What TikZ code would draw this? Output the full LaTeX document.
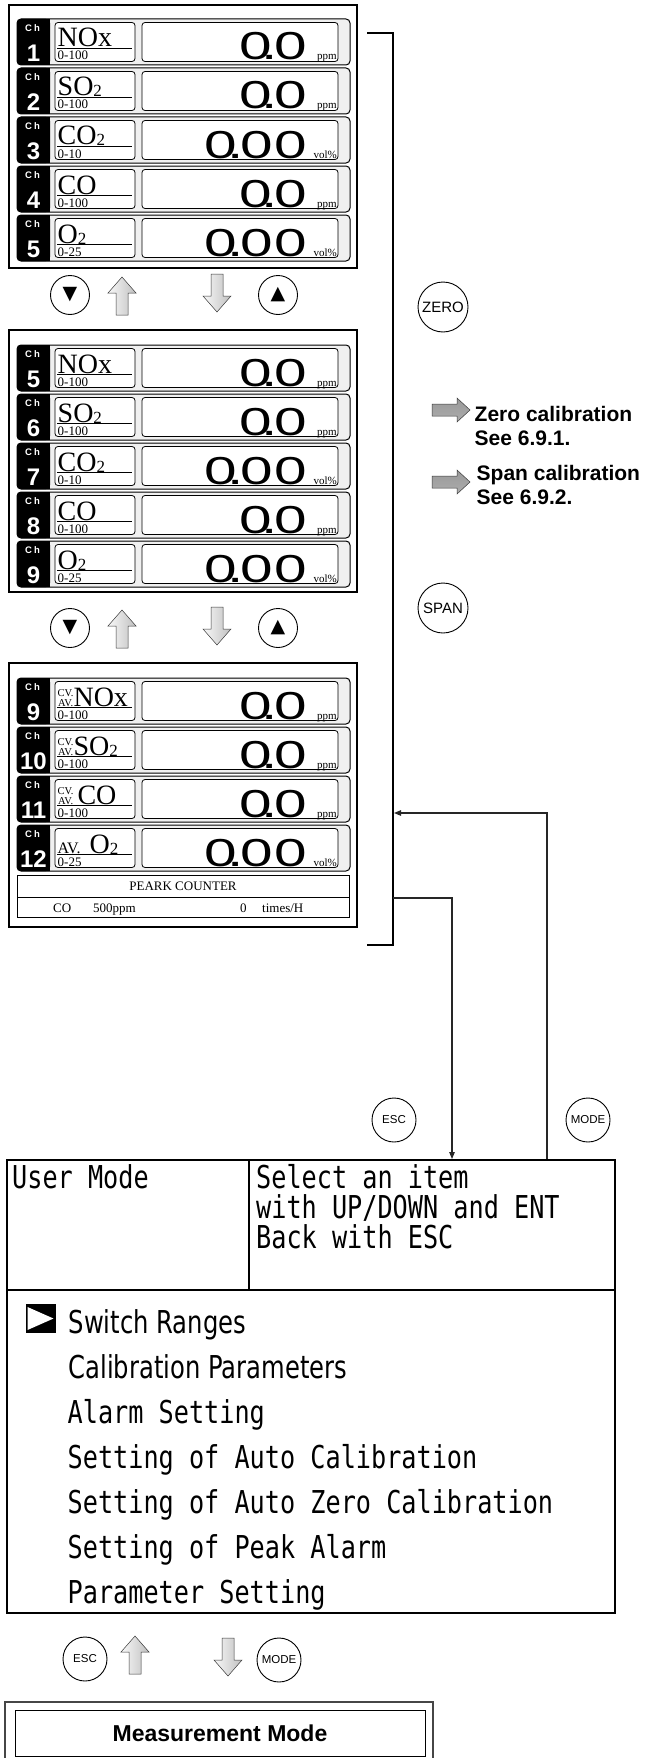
\documentclass[tikz,border=0pt]{standalone}
\usepackage{fontspec}
\setmainfont{Liberation Serif}
\setsansfont{Liberation Sans}
\newfontfamily\lcdmono{DejaVu Sans Mono}
\newfontfamily\lcdsans{DejaVu Sans}
\usetikzlibrary{arrows.meta}

\newcommand{\gsub}[1]{{\fontsize{17}{17}\selectfont\raisebox{-1pt}{#1}}}
\newcommand{\vtwo}{0\kern-.166em.\kern-.068em0}
\newcommand{\vthree}{0\kern-.166em.\kern-.068em0\kern.03em0}
\newcommand{\cvav}{{\fontsize{10.5}{9}\selectfont\begin{tabular}[b]{@{}c@{}}CV.\\AV.\end{tabular}}}
\newcommand{\lcdtext}[1]{\scalebox{0.8}[1]{#1}}

\begin{document}
\begin{tikzpicture}[x=1pt, y=-1pt,
  panel/.style={rectangle, draw, line width=1.1pt, minimum width=348pt, inner sep=0pt},
  chrow/.style={rectangle, draw, line width=1pt, rounded corners=4pt, fill=gray!12, minimum width=333pt, minimum height=46pt, inner sep=0pt},
  namebox/.style={rectangle, draw, line width=0.8pt, rounded corners=3pt, fill=white, minimum width=80pt, minimum height=39pt, inner sep=0pt},
  valbox/.style={namebox, minimum width=196pt},
  txt/.style={inner sep=0pt, anchor=base west},
  chtag/.style={inner sep=0pt, anchor=base, text=white, font=\sffamily\bfseries\fontsize{9.5}{10}\selectfont},
  chnum/.style={inner sep=0pt, anchor=base, text=white, font=\sffamily\bfseries\fontsize{24}{24}\selectfont},
  gasfont/.style={txt, text depth=0pt, font=\fontsize{28}{30}\selectfont},
  rngfont/.style={txt, font=\fontsize{13}{14}\selectfont},
  valfont/.style={inner sep=0pt, anchor=base east, font=\sffamily\fontsize{39}{40}\selectfont},
  unitfont/.style={inner sep=0pt, anchor=base east, font=\fontsize{11}{12}\selectfont},
  peakfont/.style={txt, font=\fontsize{13}{14}\selectfont},
  navkey/.style={circle, draw, line width=0.9pt, minimum size=39pt, inner sep=0pt, font=\lcdsans\fontsize{19}{19}\selectfont},
  fnkey/.style={circle, draw, line width=0.9pt, minimum size=50pt, inner sep=0pt, font=\sffamily\fontsize{15}{15}\selectfont},
  smkey/.style={circle, draw, line width=0.9pt, minimum size=44pt, inner sep=0pt, font=\sffamily\fontsize{11.5}{12}\selectfont},
  calfont/.style={txt, font=\sffamily\bfseries\fontsize{21}{22}\selectfont},
  lcd/.style={txt, font=\lcdmono\fontsize{31.5}{32}\selectfont},
  lcdprop/.style={txt, font=\lcdsans\fontsize{31.5}{32}\selectfont},
  bracket/.style={line width=1.2pt},
  flow/.style={draw=gray!30!black, line width=1.1pt, -{Triangle[length=7pt,width=5.5pt]}},
  metal/.style={left color=gray!5, middle color=gray!85, right color=gray!50, draw=gray!45!black, line width=0.5pt},
  uparr/.pic={\shadedraw[metal] (-6,19) -- (-6,-3) -- (-14,-3) -- (0,-19) -- (14,-3) -- (6,-3) -- (6,19) -- cycle;},
  dnarr/.pic={\shadedraw[metal] (-6,-19) -- (-6,3) -- (-14,3) -- (0,19) -- (14,3) -- (6,3) -- (6,-19) -- cycle;},
  rtarr/.pic={\shadedraw[top color=gray!80, middle color=gray!10, bottom color=gray!65, draw=gray!45!black, line width=0.5pt] (-19,-6) -- (6,-6) -- (6,-12) -- (19,0) -- (6,12) -- (6,6) -- (-19,6) -- cycle;}
]
\useasboundingbox (0,0) rectangle (657,1758);

% three channel screens
\node[panel, minimum height=263pt] (scr1) at (183,136.5) {};
\node[panel, minimum height=262pt] (scr2) at (183,461) {};
\node[panel, minimum height=264pt] (scr3) at (183,795) {};

\foreach \ry/\rch/\rgas/\rrng/\rval/\runit [count=\i] in {
  19/1/NOx/0-100/\vtwo/ppm, 68/2/SO\gsub{2}/0-100/\vtwo/ppm, 117/3/CO\gsub{2}/0-10/\vthree/vol\%,
  166/4/CO/0-100/\vtwo/ppm, 215/5/O\gsub{2}/0-25/\vthree/vol\%,
  345/5/NOx/0-100/\vtwo/ppm, 394/6/SO\gsub{2}/0-100/\vtwo/ppm, 443/7/CO\gsub{2}/0-10/\vthree/vol\%,
  492/8/CO/0-100/\vtwo/ppm, 541/9/O\gsub{2}/0-25/\vthree/vol\%,
  678/9/{\cvav NOx}/0-100/\vtwo/ppm, 727/10/{\cvav SO\gsub{2}}/0-100/\vtwo/ppm,
  776/11/{\cvav\hspace{4pt}CO}/0-100/\vtwo/ppm, 825/12/{{\fontsize{16}{16}\selectfont AV.}\hspace{9pt}O\gsub{2}}/0-25/\vthree/vol\%}
{
  \node[chrow] (row\i) at (183.5,\ry+23) {};
  \fill[rounded corners=4pt] (17,\ry) rectangle (50,\ry+46);
  \fill (44,\ry) rectangle (50,\ry+46);
  \node[chtag] (tag\i) at (32.5,\ry+12.5) {C\hspace{2pt}h};
  \node[chnum] (num\i) at (33.5,\ry+42.5) {\rch};
  \node[namebox] (nb\i) at (95,\ry+23) {};
  \node[gasfont] (gas\i) at (57.5,\ry+28) {\rgas};
  \draw[line width=0.8pt] (57,\ry+29.5) -- (132,\ry+29.5);
  \node[rngfont] (rng\i) at (57.5,\ry+41) {\rrng};
  \node[valbox] (vb\i) at (240,\ry+23) {};
  \node[valfont] (val\i) at (307,\ry+41) {\scalebox{1.5}[1]{\rval}};
  \node[unitfont] (unit\i) at (337,\ry+41) {\runit};
}

% peak counter
\node[rectangle, draw, line width=1pt, minimum width=332pt, minimum height=42pt, inner sep=0pt] (peak) at (183,896) {};
\draw[line width=0.8pt] (17,897) -- (349,897);
\node[peakfont, anchor=base] (peakttl) at (183,890.5) {PEARK COUNTER};
\node[peakfont] (pkgas) at (53,912) {CO};
\node[peakfont] (pkrng) at (93,912) {500ppm};
\node[peakfont] (pkcnt) at (240,912) {0};
\node[peakfont] (pkunit) at (262,912) {times/H};

% scroll keys
\node[navkey] (dna) at (70,295) {▼};
\pic at (122,296) {uparr};
\pic at (217,293) {dnarr};
\node[navkey] (upa) at (278,295) {▲};
\node[navkey] (dnb) at (70,628) {▼};
\pic at (122,629) {uparr};
\pic at (217,626) {dnarr};
\node[navkey] (upb) at (278,628) {▲};

% calibration side
\coordinate (brtop) at (367,33);
\coordinate (brbot) at (367,945);
\draw[bracket] (brtop) -- ++(26,0) |- (brbot);
\node[fnkey] (zero) at (443,307) {ZERO};
\pic at (451,410) {rtarr};
\node[calfont] (zcal1) at (474.5,421.5) {Zero calibration};
\node[calfont] (zcal2) at (474.5,445.5) {See 6.9.1.};
\pic at (451,482) {rtarr};
\node[calfont] (scal1) at (476.5,480.5) {Span calibration};
\node[calfont] (scal2) at (476.5,504.5) {See 6.9.2.};
\node[fnkey] (span) at (443,608) {SPAN};

% user mode
\node[smkey] (esca) at (394,1120) {ESC};
\node[smkey] (modea) at (588,1120) {MODE};
\coordinate (escfrom) at (393,898);
\coordinate (escto) at (452,1159);
\draw[flow] (escfrom) -| (escto);
\coordinate (modefrom) at (547,1160);
\coordinate (modeto) at (394,813);
\draw[flow] (modefrom) |- (modeto);

\node[rectangle, draw, line width=2pt, minimum width=608pt, minimum height=453pt, inner sep=0pt] (umode) at (311,1386.5) {};
\draw[line width=1.5pt] (7,1290) -- (615,1290);
\draw[line width=1.5pt] (249,1160) -- (249,1290);
\node[lcd] (umttl) at (12,1188.5) {\lcdtext{User Mode}};
\node[lcd] (uminf1) at (256,1188.5) {\lcdtext{Select an item}};
\node[lcd] (uminf2) at (256,1218.5) {\lcdtext{with UP/DOWN and ENT}};
\node[lcd] (uminf3) at (256,1248.5) {\lcdtext{Back with ESC}};

\fill (26,1304) rectangle (56,1333);
\fill[white] (27.5,1307) -- (53.5,1318.5) -- (27.5,1330) -- cycle;
\node[lcdprop] (it1) at (68.5,1333.5) {\scalebox{0.77}[1]{Switch Ranges}};
\node[lcdprop] (it2) at (68.5,1378.5) {\scalebox{0.77}[1]{Calibration Parameters}};
\node[lcd] (it3) at (67.5,1423.5) {\lcdtext{Alarm Setting}};
\node[lcd] (it4) at (67.5,1468.5) {\lcdtext{Setting of Auto Calibration}};
\node[lcd] (it5) at (67.5,1513.5) {\lcdtext{Setting of Auto Zero Calibration}};
\node[lcd] (it6) at (67.5,1558.5) {\lcdtext{Setting of Peak Alarm}};
\node[lcd] (it7) at (67.5,1603.5) {\lcdtext{Parameter Setting}};

% back to measurement
\node[smkey] (escb) at (85,1659) {ESC};
\pic at (135,1655) {uparr};
\pic at (228,1657) {dnarr};
\node[smkey] (modeb) at (279,1660) {MODE};
\draw[line width=1.5pt, draw=gray!55!black] (5,1758) -- (5,1702) -- (433,1702) -- (433,1758);
\node[rectangle, draw, line width=1pt, minimum width=410pt, minimum height=46pt, inner sep=0pt, font=\sffamily\bfseries\fontsize{23}{24}\selectfont] (meas) at (220,1733.5) {Measurement Mode};

\end{tikzpicture}
\end{document}
